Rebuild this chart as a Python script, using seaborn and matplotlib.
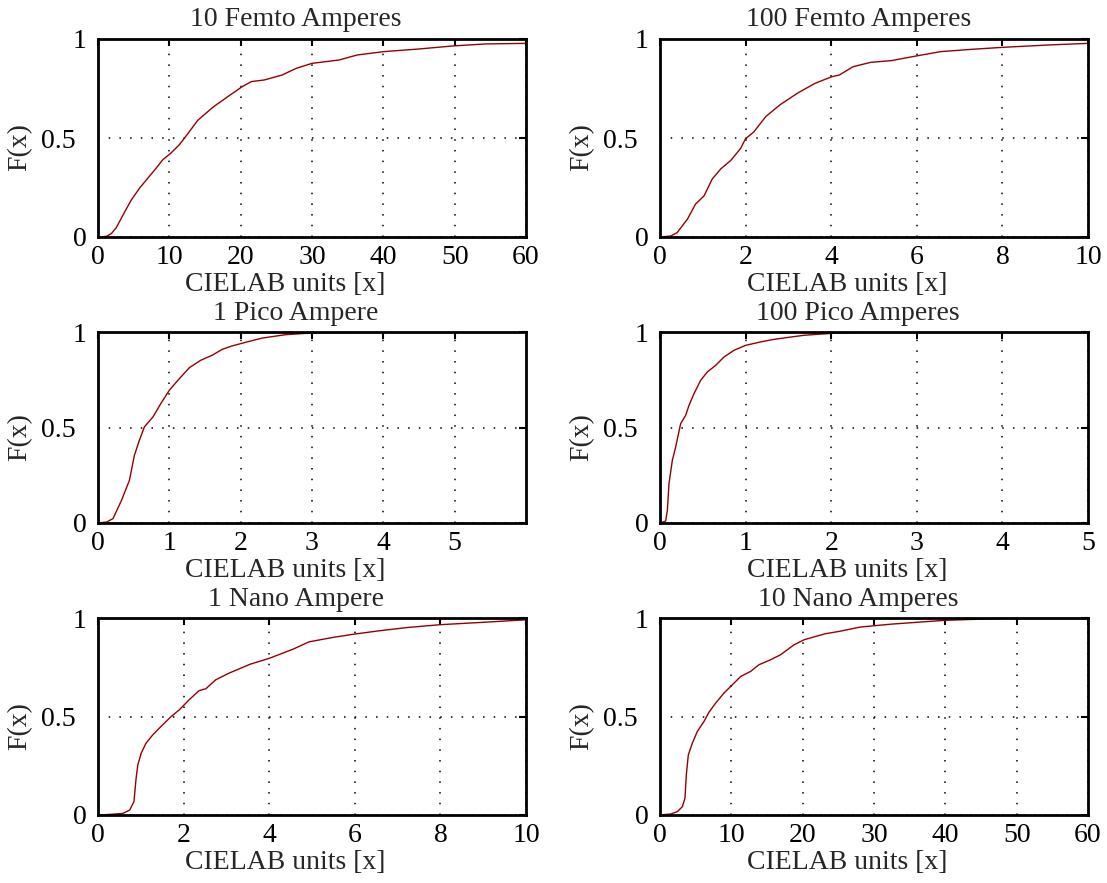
import numpy as np
import matplotlib
matplotlib.use('Agg')
import matplotlib.pyplot as plt
import matplotlib.transforms as mtransforms
import seaborn as sns

# titles, axis ranges and x ticks for the six panels
titles = ['10 Femto Amperes', '100 Femto Amperes', '1 Pico Ampere',
          '100 Pico Amperes', '1 Nano Ampere', '10 Nano Amperes']
x_limits = [60, 10, 6, 5, 10, 60]
x_ticks = [[0, 10, 20, 30, 40, 50, 60], [0, 2, 4, 6, 8, 10], [0, 1, 2, 3, 4, 5],
           [0, 1, 2, 3, 4, 5], [0, 2, 4, 6, 8, 10], [0, 10, 20, 30, 40, 50, 60]]

fa10_x = [0, 1.16, 1.86, 2.56, 3.49, 4.65, 5.81, 6.98, 8.14, 9.07, 10.23, 11.4, 12.3,
          14.0, 16.2, 18.2, 20.2, 21.5, 23.3, 25.8, 27.8, 30.0, 33.8, 36.3, 40.0, 44.8,
          49.8, 54.3, 60]
fa10_f = [0, 0.003, 0.017, 0.047, 0.11, 0.186, 0.246, 0.297, 0.347, 0.39, 0.424, 0.466,
          0.508, 0.59, 0.658, 0.709, 0.759, 0.785, 0.793, 0.818, 0.852, 0.877, 0.894,
          0.919, 0.936, 0.949, 0.965, 0.975, 0.978]

fa100_x = [0, 0.25, 0.4, 0.64, 0.83, 1.03, 1.22, 1.42, 1.65, 1.88, 2.0, 2.19, 2.47, 2.8,
           3.21, 3.62, 4.02, 4.19, 4.51, 4.92, 5.41, 5.98, 6.55, 7.29, 8.02, 9.09, 10]
fa100_f = [0, 0.005, 0.022, 0.09, 0.166, 0.208, 0.293, 0.344, 0.386, 0.446, 0.497, 0.53,
           0.608, 0.667, 0.726, 0.776, 0.81, 0.818, 0.86, 0.882, 0.891, 0.914, 0.936,
           0.948, 0.958, 0.97, 0.978]

pa1_x = [0, 0.12, 0.21, 0.33, 0.44, 0.51, 0.58, 0.65, 0.77, 0.88, 1.0, 1.12, 1.28, 1.44,
         1.6, 1.74, 1.88, 2.0, 2.12, 2.3, 2.63, 3.0, 3.63, 4.6]
pa1_f = [0, 0.005, 0.023, 0.119, 0.223, 0.354, 0.433, 0.503, 0.555, 0.625, 0.695, 0.747,
         0.813, 0.852, 0.878, 0.909, 0.927, 0.939, 0.951, 0.968, 0.986, 0.995, 0.998, 1.0]

pa100_x = [0, 0.066, 0.086, 0.105, 0.144, 0.183, 0.241, 0.3, 0.339, 0.397, 0.475, 0.553,
           0.65, 0.747, 0.864, 1.0, 1.175, 1.311, 1.5, 1.686, 2.01, 2.46]
pa100_f = [0, 0.01, 0.066, 0.206, 0.328, 0.398, 0.52, 0.564, 0.616, 0.677, 0.747, 0.791,
           0.825, 0.869, 0.904, 0.93, 0.948, 0.96, 0.972, 0.983, 0.993, 1.0]

na1_x = [0, 0.27, 0.58, 0.74, 0.84, 0.89, 0.93, 1.01, 1.12, 1.28, 1.47, 1.71, 1.9, 2.13,
         2.36, 2.52, 2.75, 3.06, 3.55, 4.01, 4.56, 4.93, 5.48, 5.98, 6.57, 7.24, 7.99,
         8.99, 10]
na1_f = [0, 0.003, 0.008, 0.025, 0.068, 0.186, 0.254, 0.314, 0.364, 0.407, 0.449, 0.5,
         0.534, 0.585, 0.631, 0.641, 0.686, 0.72, 0.765, 0.796, 0.842, 0.879, 0.901,
         0.918, 0.935, 0.952, 0.966, 0.978, 0.991]

na10_x = [0, 1.5, 2.43, 3.13, 3.5, 3.69, 3.97, 4.53, 5.23, 6.17, 6.87, 7.8, 8.97, 10.14,
          11.31, 12.71, 13.88, 15.51, 16.92, 18.79, 20.23, 23.16, 25.12, 28.06, 32.47,
          39.81, 47.16, 53.77]
na10_f = [0, 0.005, 0.017, 0.042, 0.085, 0.203, 0.305, 0.364, 0.424, 0.475, 0.522, 0.568,
          0.619, 0.661, 0.703, 0.729, 0.763, 0.788, 0.814, 0.864, 0.89, 0.92, 0.932,
          0.954, 0.969, 0.988, 0.997, 1.0]

curves = [(fa10_x, fa10_f), (fa100_x, fa100_f), (pa1_x, pa1_f),
          (pa100_x, pa100_f), (na1_x, na1_f), (na10_x, na10_f)]

sns.set_style('white')
plt.rcParams['font.family'] = ['Liberation Serif', 'DejaVu Serif']
FS = 20

W, H = 1107, 883
fig = plt.figure(figsize=(W / 100, H / 100), dpi=100)

# axes boxes in pixels: (left, right) per column, (top, bottom) per row
cols = [(98, 526), (660, 1088)]
rows = [(39, 237), (332, 523), (618, 815)]

for i, (title, (xs, fs)) in enumerate(zip(titles, curves)):
    l, r = cols[i % 2]
    t, b = rows[i // 2]
    ax = fig.add_axes([l / W, 1 - b / H, (r - l) / W, (b - t) / H])
    sns.lineplot(x=xs, y=fs, ax=ax, color='#950000', linewidth=1.0)
    ax.set_xlim(0, x_limits[i])
    ax.set_ylim(0, 1)
    ax.set_xticks(x_ticks[i])
    ax.set_yticks([0, 0.5, 1])
    ax.set_yticklabels(['0', '0.5', '1'])
    ax.grid(True, linestyle=(0, (1, 6)), color='black', linewidth=1.1)
    ax.tick_params(direction='in', length=5, width=1.5, top=True, right=True,
                   labelsize=FS, colors='black')
    ax.tick_params(axis='x', pad=6)
    ax.tick_params(axis='y', pad=8)
    # the "0.5" label sits a little further left in the original
    lab = ax.get_yticklabels()[1]
    lab.set_transform(lab.get_transform() +
                      mtransforms.ScaledTranslation(-8 / 72, 0, fig.dpi_scale_trans))
    for s in ax.spines.values():
        s.set_linewidth(2)
        s.set_color('black')
    ax.set_title(title, fontsize=FS, pad=9, x=0.463)
    ax.set_xlabel('CIELAB units [x]', fontsize=FS, labelpad=1)
    ax.xaxis.label.set_x(0.437)
    ax.set_ylabel('F(x)', fontsize=FS, labelpad=6)
    ax.yaxis.label.set_y(0.452)

fig.savefig('out.png', dpi=100)
